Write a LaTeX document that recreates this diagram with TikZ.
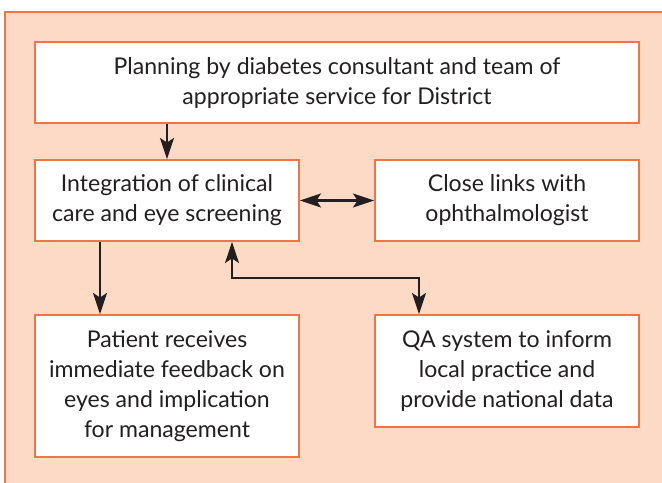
\documentclass[tikz,border=0pt]{standalone}
\usepackage{fontspec}
\setmainfont{Lato}
\usepackage{xcolor}
\usetikzlibrary{positioning,arrows.meta}

\definecolor{panelfill}{HTML}{FDDAC5}
\definecolor{panelline}{HTML}{F07448}
\definecolor{inkgray}{HTML}{231F20}

\begin{document}
\begin{tikzpicture}[
    x=0.75pt, y=-0.75pt,
    stage/.style={
      draw=panelline, fill=white, line width=1.1pt,
      align=center, text=inkgray, inner sep=0pt,
      font=\fontsize{17.3}{22.5}\selectfont
    },
    link/.style={draw=inkgray, line width=1.6pt},
    head/.tip={Stealth[length=16pt, width=10.5pt, inset=3.5pt]}
]

  % page and panel
  \useasboundingbox (0,0) rectangle (662,483);
  \fill[panelfill] (5,12) rectangle (670,490);
  \draw[panelline, line width=1.1pt] (670,12) -- (5,12) -- (5,490);

  % boxes
  \node[stage, minimum width=453pt, minimum height=60.75pt] (plan) at (337,82.5)
    {Planning by diabetes consultant and team of\\appropriate service for District};
  \node[stage, minimum width=198pt, minimum height=60.75pt] (integ) at (167,200.5)
    {Integration of clinical\\care and eye screening};
  \node[stage, minimum width=198pt, minimum height=60.75pt] (links) at (507,200.5)
    {Close links with\\ophthalmologist};
  \node[stage, minimum width=198pt, minimum height=106.5pt] (patient) at (167,386)
    {Patient receives\\immediate feedback on\\eyes and implication\\for management};
  \node[stage, minimum width=198pt, minimum height=84pt] (qa) at (507,371)
    {QA system to inform\\local practice and\\provide national data};

  % arrows between boxes
  \draw[link, -head] (plan.south -| integ) -- (integ);
  \draw[link, head-head] (integ) -- (links);
  \draw[link, -head] (integ.south -| 100,0) -- (patient.north -| 100,0);

  % feedback loop to the QA system
  \coordinate (loopA) at (232,278);
  \coordinate (loopB) at (419,278);
  \draw[link, head-head] (integ.south -| loopA) -- (loopA) -- (loopB) -- (qa.north -| loopB);

\end{tikzpicture}
\end{document}
